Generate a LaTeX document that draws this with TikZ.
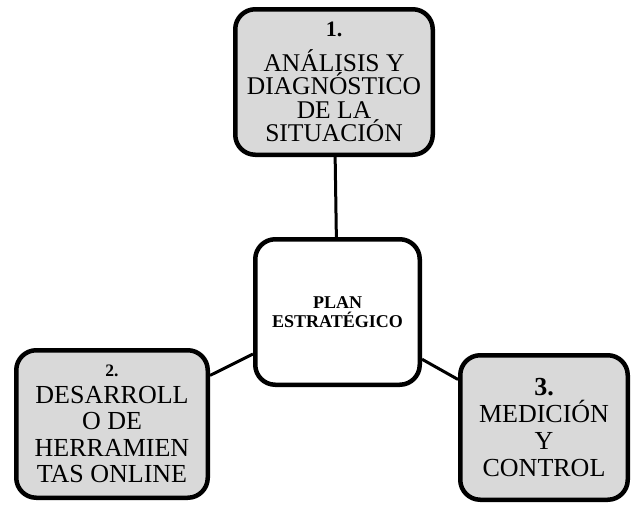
\documentclass[tikz,border=0pt]{standalone}
\usepackage{fontspec}
\setmainfont{Liberation Serif}
\usetikzlibrary{positioning}

\begin{document}
\begin{tikzpicture}[
  x=1pt, y=-1pt,
  box/.style={draw, line width=4.5pt, rounded corners=20pt, align=center, inner sep=0pt},
  etapa/.style={box, fill=black!15},
  centro/.style={box, fill=white},
  con/.style={line width=3pt}
]
\useasboundingbox (0,0) rectangle (632,504);

% plan en el centro
\node[centro, minimum width=164.5pt, minimum height=145.5pt,
  font=\fontsize{18}{19.5}\selectfont\bfseries] (plan) at (337.5,312) {PLAN\\ESTRATÉGICO};

% las tres etapas
\node[etapa, minimum width=197.5pt, minimum height=145.5pt,
  font=\fontsize{25.5}{23.5}\selectfont] (analisis) at (334,82)
  {{\fontsize{22}{23.5}\selectfont\bfseries 1.}\\[11pt]ANÁLISIS Y\\DIAGNÓSTICO\\DE LA\\SITUACIÓN};
\node[etapa, minimum width=191.5pt, minimum height=147.5pt,
  font=\fontsize{26}{26.5}\selectfont] (desarrollo) at (112,424)
  {{\fontsize{17.5}{26.5}\selectfont\bfseries 2.}\\DESARROLL\\O DE\\HERRAMIEN\\TAS ONLINE};
\node[etapa, minimum width=167.5pt, minimum height=144.5pt,
  font=\fontsize{26}{27}\selectfont] (medicion) at (544,427.5)
  {{\fontsize{26}{27}\selectfont\bfseries 3.}\\MEDICIÓN\\Y\\CONTROL};

\draw[con] (analisis) -- (plan);
\draw[con] (plan) -- (desarrollo);
\draw[con] (plan) -- (medicion);
\end{tikzpicture}
\end{document}
